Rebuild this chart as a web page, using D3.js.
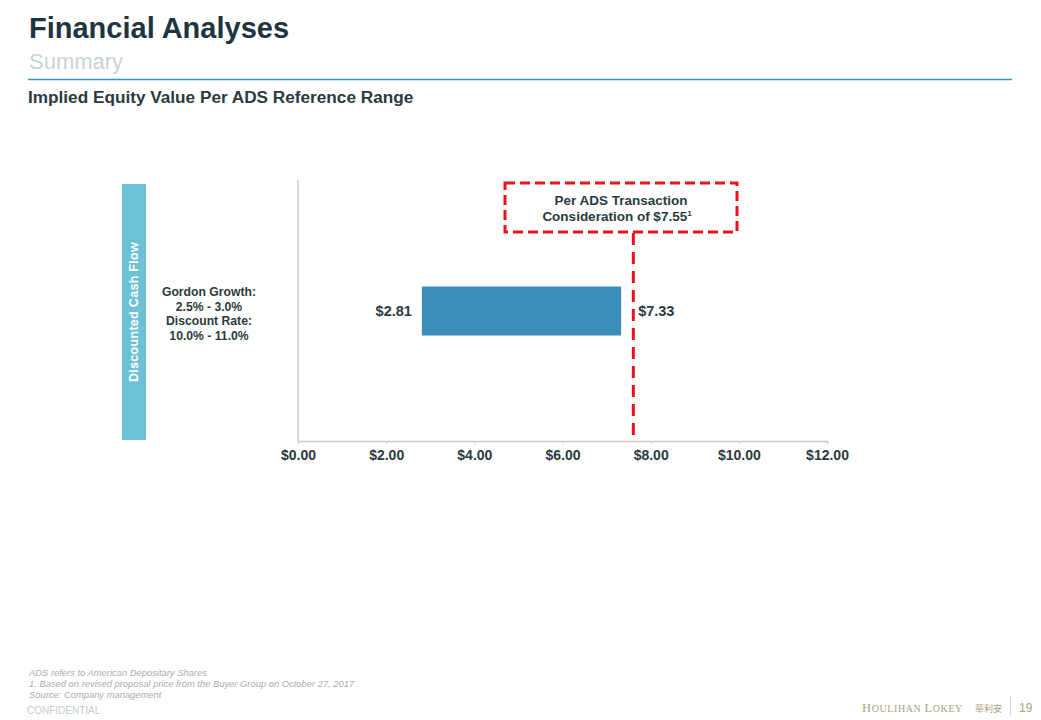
<!DOCTYPE html>
<html>
<head>
<meta charset="utf-8">
<script src="https://cdn.jsdelivr.net/npm/d3@7"></script>
<style>
  body { margin: 0; background: #fff; }
  svg { display: block; font-family: "Liberation Sans", Arial, sans-serif; }
</style>
</head>
<body>
<svg id="chart" width="1041" height="720"></svg>
<script>
// chart data
var categories = ['Discounted Cash Flow'];
var methodNotes = [['Gordon Growth:', '2.5% - 3.0%', 'Discount Rate:', '10.0% - 11.0%']];
var lowValues = [2.81];
var highValues = [7.33];
var referencePrice = 7.55;
var tickValues = [0, 2, 4, 6, 8, 10, 12];
var footnotes = [
  'ADS refers to American Depositary Shares',
  '1. Based on revised proposal price from the Buyer Group on October 27, 2017',
  'Source: Company management'
];

var svg = d3.select('#chart');
var dark = '#2b3a40';

// header
svg.append('text').attr('x', 29).attr('y', 38)
  .attr('font-size', 29).attr('font-weight', 'bold').attr('fill', '#1e3540')
  .text('Financial Analyses');
svg.append('text').attr('x', 29).attr('y', 69)
  .attr('font-size', 22).attr('fill', '#c9d3d3')
  .text('Summary');
svg.append('line').attr('x1', 28).attr('x2', 1012).attr('y1', 79.5).attr('y2', 79.5)
  .attr('stroke', '#3b92c2').attr('stroke-width', 1.5);
svg.append('text').attr('x', 28).attr('y', 103)
  .attr('font-size', 17.2).attr('font-weight', 'bold').attr('fill', dark)
  .text('Implied Equity Value Per ADS Reference Range');

// scales
var x = d3.scaleLinear().domain([0, 12]).range([298, 827]);
var y = d3.scaleBand().domain(categories).range([184, 440]);

// side band with method name
var band = svg.append('g').attr('class', 'bands');
categories.forEach(function(c) {
  band.append('rect').attr('x', 122).attr('y', y(c)).attr('width', 24).attr('height', y.bandwidth())
    .attr('fill', '#6cc1d6');
  band.append('text')
    .attr('transform', 'translate(138,' + (y(c) + y.bandwidth() / 2) + ') rotate(-90)')
    .attr('text-anchor', 'middle').attr('font-size', 12.5).attr('font-weight', 'bold')
    .attr('fill', '#fff').attr('letter-spacing', 0.3)
    .text(c);
});

// method notes
categories.forEach(function(c, i) {
  var cy = y(c) + y.bandwidth() / 2;
  var t = svg.append('text').attr('text-anchor', 'middle').attr('font-size', 12.2)
    .attr('font-weight', 'bold').attr('fill', dark);
  methodNotes[i].forEach(function(line, j) {
    t.append('tspan').attr('x', 209).attr('y', cy - 16 + j * 14.5).text(line);
  });
});

// axes
svg.append('line').attr('x1', x(0)).attr('x2', x(0)).attr('y1', 180).attr('y2', 441)
  .attr('stroke', '#c8cccc').attr('stroke-width', 1.5);
var axis = svg.append('g').attr('transform', 'translate(0,441)')
  .call(d3.axisBottom(x).tickValues(tickValues).tickSize(3).tickPadding(6)
    .tickFormat(function(d) { return '$' + d.toFixed(2); }));
axis.select('.domain').attr('stroke', '#c8cccc').attr('stroke-width', 1.5);
axis.selectAll('.tick line').attr('stroke', '#c8cccc');
axis.selectAll('.tick text').attr('font-size', 14).attr('font-weight', 'bold')
  .attr('fill', dark).attr('font-family', '"Liberation Sans", Arial, sans-serif');

// bars
var barH = 49;
categories.forEach(function(c, i) {
  var cy = y(c) + y.bandwidth() / 2 - 1;
  svg.append('rect').attr('x', x(lowValues[i])).attr('y', cy - barH / 2)
    .attr('width', x(highValues[i]) - x(lowValues[i])).attr('height', barH)
    .attr('fill', '#3a8db8');
  svg.append('text').attr('x', x(lowValues[i]) - 10).attr('y', cy + 5)
    .attr('text-anchor', 'end').attr('font-size', 14.5).attr('font-weight', 'bold').attr('fill', dark)
    .text('$' + lowValues[i].toFixed(2));
  svg.append('text').attr('x', x(highValues[i]) + 17).attr('y', cy + 5)
    .attr('font-size', 14.5).attr('font-weight', 'bold').attr('fill', dark)
    .text('$' + highValues[i].toFixed(2));
});

// reference line and callout
var rx = x(referencePrice) + 2.5;
svg.append('line').attr('x1', rx).attr('x2', rx).attr('y1', 233).attr('y2', 440)
  .attr('stroke', '#e8141c').attr('stroke-width', 3).attr('stroke-dasharray', '12,7');
svg.append('rect').attr('x', 505).attr('y', 183).attr('width', 232).attr('height', 49)
  .attr('fill', 'none').attr('stroke', '#e8141c').attr('stroke-width', 3)
  .attr('stroke-dasharray', '10,5');
var callout = svg.append('text').attr('text-anchor', 'middle').attr('font-size', 13.5)
  .attr('font-weight', 'bold').attr('fill', dark);
callout.append('tspan').attr('x', 621).attr('y', 205).text('Per ADS Transaction');
callout.append('tspan').attr('x', 617).attr('y', 221).text('Consideration of $' + referencePrice.toFixed(2));
callout.append('tspan').attr('dy', -5).attr('font-size', 8).text('1');

// footer
footnotes.forEach(function(f, i) {
  svg.append('text').attr('x', 29).attr('y', 676 + i * 11)
    .attr('font-size', 9.4).attr('font-style', 'italic').attr('fill', '#a9adad').text(f);
});
svg.append('text').attr('x', 27).attr('y', 714)
  .attr('font-size', 10).attr('fill', '#c4cccc').text('CONFIDENTIAL');
var logo = svg.append('text').attr('x', 862).attr('y', 712)
  .attr('font-family', '"Liberation Serif", serif').attr('fill', '#a9a57c')
  .attr('font-size', 12.5).attr('letter-spacing', 0.6);
logo.append('tspan').text('H');
logo.append('tspan').attr('font-size', 10).text('OULIHAN ');
logo.append('tspan').text('L');
logo.append('tspan').attr('font-size', 10).text('OKEY');
svg.append('text').attr('x', 975).attr('y', 712).attr('font-size', 9)
  .attr('font-family', '"Noto Sans CJK TC", sans-serif').attr('fill', '#a9a57c').text('華利安');
svg.append('line').attr('x1', 1010.5).attr('x2', 1010.5).attr('y1', 696).attr('y2', 716)
  .attr('stroke', '#d8d8cc');
svg.append('text').attr('x', 1019).attr('y', 712).attr('font-size', 12)
  .attr('fill', '#a9a57c').text('19');
</script>
</body>
</html>
